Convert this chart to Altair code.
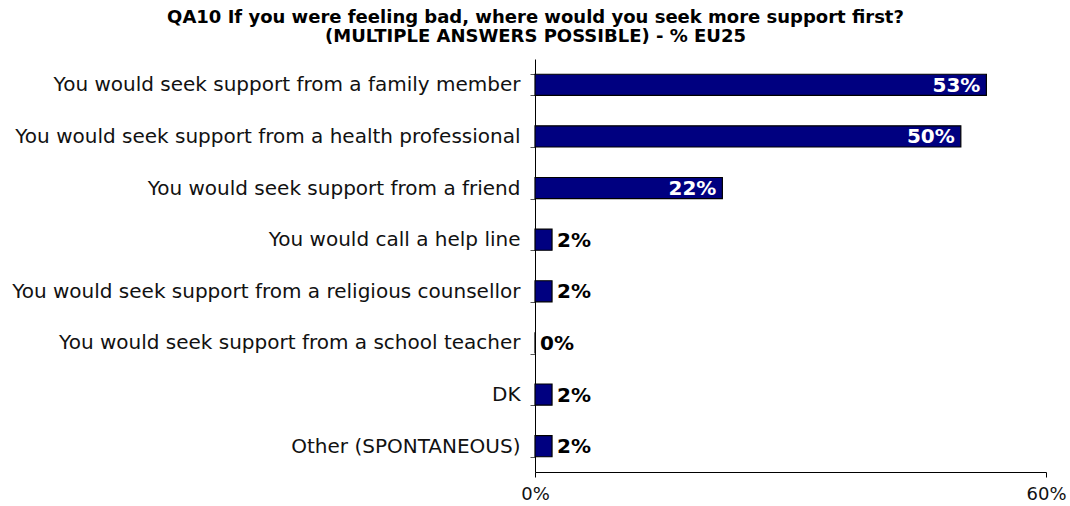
import altair as alt
import pandas as pd

categories = [
    "You would seek support from a family member",
    "You would seek support from a health professional",
    "You would seek support from a friend",
    "You would call a help line",
    "You would seek support from a religious counsellor",
    "You would seek support from a school teacher",
    "DK",
    "Other (SPONTANEOUS)",
]
values = [53, 50, 22, 2, 2, 0, 2, 2]
labels = ["53%", "50%", "22%", "2%", "2%", "0%", "2%", "2%"]

df = pd.DataFrame({"cat": categories, "val": values, "lab": labels})
df["inside"] = df["val"] >= 10

FONT = "DejaVu Sans"
ydom = categories

y = alt.Y("cat:N", sort=ydom, title=None,
          scale=alt.Scale(paddingInner=0.59, paddingOuter=0.295),
          axis=alt.Axis(tickBand="extent", domainColor="black", tickColor="#555555",
                        tickSize=5, labelFont=FONT, labelFontSize=20, labelColor="#111111",
                        labelPadding=10, labelLimit=0))
x = alt.X("val:Q", title=None,
          scale=alt.Scale(domain=[0, 60], nice=False, zero=True),
          axis=alt.Axis(values=[0, 60], labelExpr="datum.value + '%'", grid=False,
                        domainColor="black", tickColor="black", tickSize=5,
                        labelFont=FONT, labelFontSize=18, labelColor="#111111",
                        labelPadding=8, labelFlush=False))

base = alt.Chart(df)
bars = base.mark_bar(color="#000080", stroke="black", strokeWidth=1.2).encode(x=x, y=y)
txt_in = base.transform_filter("datum.inside").mark_text(
    align="right", baseline="middle", dx=-6, dy=1, font=FONT, fontSize=20, fontWeight="bold", color="white"
).encode(x=x, y=y, text="lab:N")
txt_out = base.transform_filter("!datum.inside").mark_text(
    align="left", baseline="middle", dx=5, dy=1, font=FONT, fontSize=20, fontWeight="bold", color="black"
).encode(x=x, y=y, text="lab:N")

chart = alt.layer(bars, txt_in, txt_out).properties(
    width=511, height=413,
    background="white",
    autosize=alt.AutoSizeParams(type="none"),
    padding={"left": 535, "top": 59, "right": 24, "bottom": 34},
    title=alt.TitleParams(
        ["QA10 If you were feeling bad, where would you seek more support first?",
         "(MULTIPLE ANSWERS POSSIBLE) - % EU25"],
        font=FONT, fontSize=18, fontWeight="bold", color="black",
        anchor="middle", dx=-255, offset=3, lineHeight=19,
    ),
).configure_view(strokeWidth=0)

chart.save("out.html", embed_options={"renderer": "svg", "actions": False})
